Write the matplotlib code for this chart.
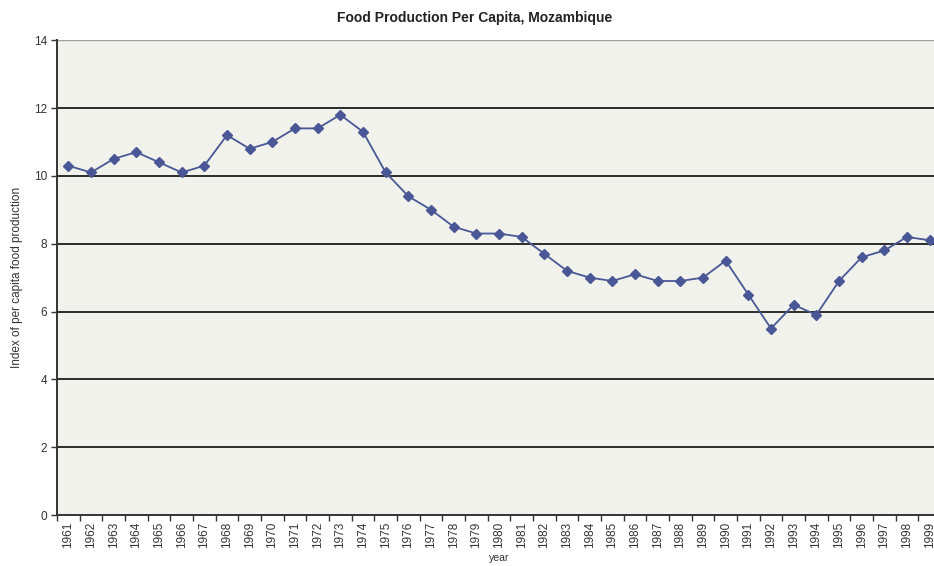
import matplotlib
matplotlib.use("Agg")
import matplotlib.pyplot as plt
import numpy as np

years = [str(y) for y in range(1961, 2000)]
index_values = [
    10.3, 10.1, 10.5, 10.7, 10.4, 10.1, 10.3, 11.2, 10.8, 11.0,
    11.4, 11.4, 11.8, 11.3, 10.1, 9.4, 9.0, 8.5, 8.3, 8.3,
    8.2, 7.7, 7.2, 7.0, 6.9, 7.1, 6.9, 6.9, 7.0, 7.5,
    6.5, 5.5, 6.2, 5.9, 6.9, 7.6, 7.8, 8.2, 8.1,
]

plt.rcParams["font.family"] = ["Liberation Sans", "DejaVu Sans"]

fig = plt.figure(figsize=(9.34, 5.66), dpi=100)
ax = fig.add_axes([0.061, 0.090, 0.9465, 0.839])
ax.set_facecolor("#f0f2eb")

x = np.arange(len(years))
ax.plot(x, index_values, color="#4a5796", linewidth=1.3,
        marker="D", markersize=5.5, markerfacecolor="#4a5796",
        markeredgecolor="#4a5796", zorder=3)

ax.set_xlim(-0.5, len(years) - 0.5)
ax.set_ylim(0, 14)
ax.set_yticks(range(0, 15, 2))

# horizontal gridlines, the top one is lighter
for yv in range(2, 13, 2):
    ax.axhline(yv, color="#2b2b2b", linewidth=1.4, zorder=1)
ax.axhline(14, color="#a0a0a0", linewidth=1.0, zorder=1)

ax.set_xticks(x)
ax.set_xticklabels(years, rotation=90, fontsize=8.5, color="#333333")
ax.set_xticks(np.arange(-0.5, len(years), 1.0), minor=True)
ax.tick_params(axis="x", which="major", length=0, pad=5)
ax.tick_params(axis="x", which="minor", length=4, width=1.0, color="#333333", direction="out")
ax.tick_params(axis="y", length=4, width=1.0, color="#333333", labelsize=8.5,
               labelcolor="#333333", pad=3)

for side in ("top", "right"):
    ax.spines[side].set_visible(False)
for side in ("left", "bottom"):
    ax.spines[side].set_color("#333333")
    ax.spines[side].set_linewidth(1.4)

ax.set_ylabel("Index of per capita food production", fontsize=8.5, color="#333333", labelpad=8)
ax.set_xlabel("year", fontsize=7.5, color="#333333", labelpad=3)
fig.text(0.508, 0.968, "Food Production Per Capita, Mozambique",
         ha="center", va="center", fontsize=10, fontweight="bold", color="#222222")

fig.savefig("out.png", dpi=100, facecolor="white")
